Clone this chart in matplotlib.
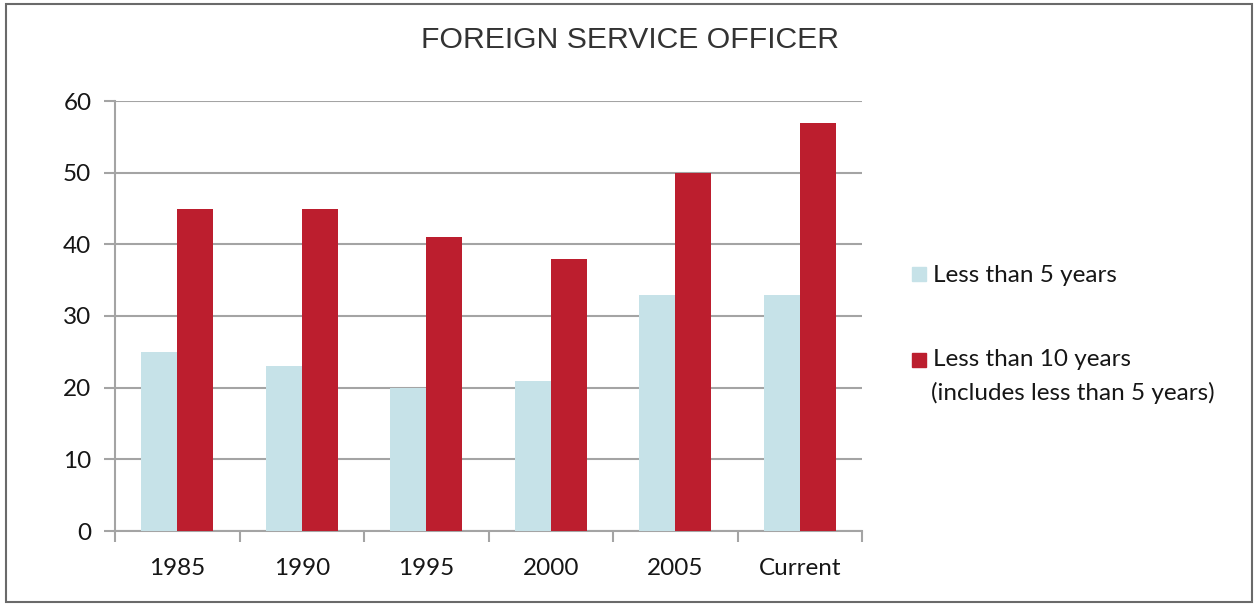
import numpy as np
import matplotlib.pyplot as plt
from matplotlib.patches import Rectangle

# data
years = ['1985', '1990', '1995', '2000', '2005', 'Current']
less_5 = [25, 23, 20, 21, 33, 33]
less_10 = [45, 45, 41, 38, 50, 57]
labels = ['Less than 5 years', 'Less than 10 years', '(includes less than 5 years)']

blue = '#c6e2e8'
red = '#bc1e2e'
grey = '#a4a4a4'
ink = '#161616'

plt.rcParams['font.family'] = ['Lato', 'DejaVu Sans']

fig = plt.figure(figsize=(12.54, 6.04), dpi=100)
ax = fig.add_axes([115 / 1254, 1 - 531 / 604, (862 - 115) / 1254, (531 - 101) / 604])

x = np.arange(len(years))
w = 0.29
b1 = ax.bar(x - w / 2, less_5, w, color=blue, zorder=3)
b2 = ax.bar(x + w / 2, less_10, w, color=red, zorder=3)

ax.set_xlim(-0.5, len(years) - 0.5)
ax.set_ylim(0, 60)
ax.set_yticks(np.arange(0, 61, 10))
ax.yaxis.grid(True, color=grey, lw=1.5, zorder=0)
ax.set_axisbelow(True)

ax.set_xticks(x)
ax.set_xticklabels(years)
ax.set_xticks(np.arange(-0.5, len(years), 1), minor=True)
ax.tick_params(axis='x', which='major', length=0, pad=19.5, labelsize=17.5, labelcolor=ink)
ax.tick_params(axis='x', which='minor', length=8, width=1.5, color=grey)
ax.tick_params(axis='y', length=8, width=1.5, color=grey, pad=9, labelsize=17.5, labelcolor=ink)

for s in ['top', 'right']:
    ax.spines[s].set_visible(False)
for s in ['left', 'bottom']:
    ax.spines[s].set_color(grey)
    ax.spines[s].set_linewidth(1.5)

fig.text(0.502, 1 - 40 / 604, 'FOREIGN SERVICE OFFICER', ha='center', va='center',
         fontsize=21.7, family=['Liberation Sans', 'DejaVu Sans'], color='#333333')

# legend drawn by hand so the red square sits on the first line
sq = 14
for col, yc in [(blue, 274), (red, 360)]:
    fig.add_artist(Rectangle((912 / 1254, 1 - (yc + sq / 2) / 604), sq / 1254, sq / 604,
                             transform=fig.transFigure, color=col))
fig.text(933 / 1254, 1 - 276 / 604, labels[0], va='center', fontsize=17.5, color=ink)
fig.text(933 / 1254, 1 - 360 / 604, labels[1], va='center', fontsize=17.5, color=ink)
fig.text(931 / 1254, 1 - 393 / 604, labels[2], va='center', fontsize=17.5, color=ink)

# outer frame
fig.add_artist(Rectangle((6 / 1254, 2 / 604), 1246 / 1254, 598 / 604, transform=fig.transFigure,
                         fill=False, edgecolor='#6a6a6a', lw=1.5))

fig.savefig('out.png', dpi=100)
